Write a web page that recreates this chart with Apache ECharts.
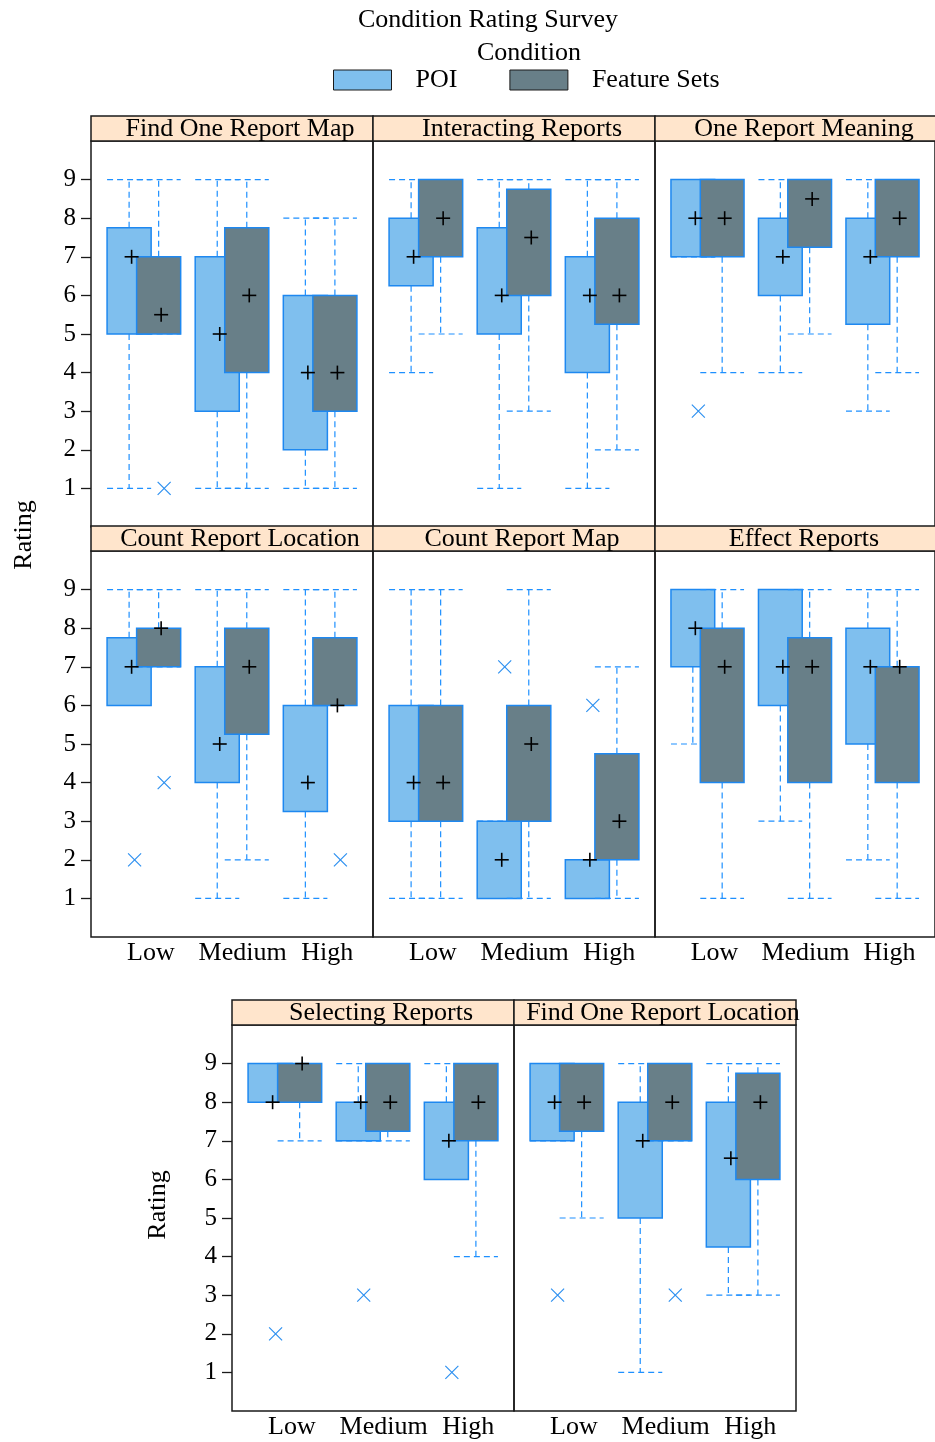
<!DOCTYPE html>
<html>
<head>
<meta charset="utf-8">
<script src="https://cdn.jsdelivr.net/npm/echarts@6/dist/echarts.min.js"></script>
<style>
  html, body { margin: 0; padding: 0; background: #ffffff; }
  #chart { width: 935px; height: 1442px; }
</style>
</head>
<body>
<div id="chart"></div>
<script>
// ---- data ----
const panelNames = [
  'Find One Report Map', 'Interacting Reports', 'One Report Meaning',
  'Count Report Location', 'Count Report Map', 'Effect Reports',
  'Selecting Reports', 'Find One Report Location'
];
const levels = ['Low', 'Medium', 'High'];
const seriesNames = ['POI', 'Feature Sets'];
const yTicks = [1, 2, 3, 4, 5, 6, 7, 8, 9];

// box summaries per panel for Low / Medium / High: [lower whisker, Q1, Q3, upper whisker]
const poiBoxes = [
  [[1, 5, 7.75, 9], [1, 3, 7, 9], [1, 2, 6, 8]],
  [[4, 6.25, 8, 9], [1, 5, 7.75, 9], [1, 4, 7, 9]],
  [[7, 7, 9, 9], [4, 6, 8, 9], [3, 5.25, 8, 9]],
  [[6, 6, 7.75, 9], [1, 4, 7, 9], [1, 3.25, 6, 9]],
  [[1, 3, 6, 9], [1, 1, 3, 3], [1, 1, 2, 2]],
  [[5, 7, 9, 9], [3, 6, 9, 9], [2, 5, 8, 9]],
  [[8, 8, 9, 9], [7, 7, 8, 9], [6, 6, 8, 9]],
  [[7, 7, 9, 9], [1, 5, 8, 9], [3, 4.25, 8, 9]]
];
const fsBoxes = [
  [[5, 5, 7, 9], [1, 4, 7.75, 9], [1, 3, 6, 8]],
  [[5, 7, 9, 9], [3, 6, 8.75, 9], [2, 5.25, 8, 9]],
  [[4, 7, 9, 9], [5, 7.25, 9, 9], [4, 7, 9, 9]],
  [[7, 7, 8, 9], [2, 5.25, 8, 9], [6, 6, 7.75, 9]],
  [[1, 3, 6, 9], [1, 3, 6, 9], [1, 2, 4.75, 7]],
  [[1, 4, 8, 9], [1, 4, 7.75, 9], [1, 4, 7, 9]],
  [[7, 8, 9, 9], [7, 7.25, 9, 9], [4, 7, 9, 9]],
  [[5, 7.25, 9, 9], [7, 7, 9, 9], [3, 6, 8.75, 9]]
];
// mean rating per panel for Low / Medium / High
const poiMeans = [[7, 5, 4], [7, 6, 6], [8, 7, 7], [7, 5, 4], [4, 2, 2], [8, 7, 7], [8, 8, 7], [8, 7, 6.55]];
const fsMeans  = [[5.5, 6, 4], [8, 7.5, 6], [8, 8.5, 8], [8, 7, 6], [4, 5, 3], [7, 7, 7], [9, 8, 8], [8, 8, 8]];
// outlying ratings per panel: [level index, rating]
const poiOutliers = [[], [], [[0, 3]], [[0, 2]], [[1, 7], [2, 6]], [], [[0, 2], [1, 3], [2, 1]], [[0, 3]]];
const fsOutliers  = [[[0, 1]], [], [], [[0, 4], [2, 2]], [], [], [], [[1, 3]]];

// ---- layout & style ----
const FONT = '"Liberation Serif", "DejaVu Serif", serif';
const PANEL_W = 282, PANEL_H = 386, STRIP_H = 25;
const panelPos = [[91, 141], [373, 141], [655, 141], [91, 551], [373, 551], [655, 551], [232, 1025], [514, 1025]];
const yLabelPanels = [0, 3, 6];
const xLabelPanels = [3, 4, 5, 6, 7];
const xLabelAt = [1.08, 2.12, 3.08];
const X_MIN = 0.4, X_MAX = 3.6;
const DODGE = 0.1676, BOX_HALF = 0.25;
const POI_FILL = '#7fbfee', FS_FILL = '#687f88';
const EDGE = '#1e88f0', WHISKER = '#1e90ff', OUTLIER = '#2b8ff0', INK = '#1a1a1a';

function seg(a, b, style) {
  return { type: 'line', shape: { x1: a[0], y1: a[1], x2: b[0], y2: b[1] }, style: style };
}

function whiskerItem(params, api) {
  const x = api.value(0), lo = api.value(1), q1 = api.value(2), q3 = api.value(3), hi = api.value(4);
  const st = { stroke: WHISKER, lineWidth: 1.2, lineDash: [6, 4], fill: null };
  const c = v => api.coord([x, v]);
  const l = v => api.coord([x - BOX_HALF, v]);
  const r = v => api.coord([x + BOX_HALF, v]);
  return {
    type: 'group',
    children: [seg(c(q3), c(hi), st), seg(c(q1), c(lo), st), seg(l(hi), r(hi), st), seg(l(lo), r(lo), st)]
  };
}

function boxItem(fill) {
  return function (params, api) {
    const x = api.value(0);
    const tl = api.coord([x - BOX_HALF, api.value(3)]);
    const br = api.coord([x + BOX_HALF, api.value(2)]);
    return {
      type: 'rect',
      shape: { x: tl[0], y: tl[1], width: br[0] - tl[0], height: br[1] - tl[1] },
      style: { fill: fill, stroke: EDGE, lineWidth: 1.5 }
    };
  };
}

function meanItem(params, api) {
  const p = api.coord([api.value(0), api.value(1)]);
  const cx = p[0] + 2.5, cy = p[1], a = 7;
  const st = { stroke: '#000', lineWidth: 1.6 };
  return { type: 'group', children: [seg([cx - a, cy], [cx + a, cy], st), seg([cx, cy - a], [cx, cy + a], st)] };
}

function outlierItem(params, api) {
  const p = api.coord([api.value(0), api.value(1)]);
  const cx = p[0] + 5.5, cy = p[1], a = 6.5;
  const st = { stroke: OUTLIER, lineWidth: 1.2 };
  return { type: 'group', children: [seg([cx - a, cy - a], [cx + a, cy + a], st), seg([cx - a, cy + a], [cx + a, cy - a], st)] };
}

const grids = [], xAxes = [], yAxes = [], series = [], graphics = [];

panelNames.forEach((name, i) => {
  const [left, top] = panelPos[i];
  const hasY = yLabelPanels.includes(i);
  const hasX = xLabelPanels.includes(i);
  grids.push({ left: left, top: top, width: PANEL_W, height: PANEL_H, show: true, borderColor: INK, borderWidth: 1.5, backgroundColor: 'transparent' });
  xAxes.push({
    gridIndex: i, type: 'value', min: X_MIN, max: X_MAX,
    axisLine: { show: false }, axisTick: { show: false }, splitLine: { show: false },
    axisLabel: {
      show: hasX, customValues: xLabelAt, margin: 3,
      formatter: v => levels[Math.round(v) - 1],
      fontFamily: FONT, fontSize: 26, color: '#000'
    }
  });
  yAxes.push({
    gridIndex: i, type: 'value', min: 0, max: 10, interval: 1,
    axisLine: { show: false }, splitLine: { show: false },
    axisTick: { show: hasY, customValues: yTicks, length: 10, lineStyle: { color: INK, width: 1.3 } },
    axisLabel: { show: hasY, customValues: yTicks, margin: 15, fontFamily: FONT, fontSize: 25, color: '#000' }
  });

  const poiX = k => k + 1 - DODGE;
  const fsX = k => k + 1 + DODGE;
  const common = { type: 'custom', xAxisIndex: i, yAxisIndex: i, silent: true, animation: false };

  series.push(Object.assign({}, common, { name: 'POI whiskers', renderItem: whiskerItem, data: poiBoxes[i].map((b, k) => [poiX(k)].concat(b)) }));
  series.push(Object.assign({}, common, { name: 'POI', renderItem: boxItem(POI_FILL), itemStyle: { color: POI_FILL }, data: poiBoxes[i].map((b, k) => [poiX(k)].concat(b)) }));
  series.push(Object.assign({}, common, { name: 'Feature Sets whiskers', renderItem: whiskerItem, data: fsBoxes[i].map((b, k) => [fsX(k)].concat(b)) }));
  series.push(Object.assign({}, common, { name: 'Feature Sets', renderItem: boxItem(FS_FILL), itemStyle: { color: FS_FILL }, data: fsBoxes[i].map((b, k) => [fsX(k)].concat(b)) }));
  series.push(Object.assign({}, common, {
    name: 'means', renderItem: meanItem,
    data: poiMeans[i].map((m, k) => [poiX(k), m]).concat(fsMeans[i].map((m, k) => [fsX(k), m]))
  }));
  series.push(Object.assign({}, common, {
    name: 'outliers', renderItem: outlierItem,
    data: poiOutliers[i].map(o => [poiX(o[0]), o[1]]).concat(fsOutliers[i].map(o => [fsX(o[0]), o[1]]))
  }));

  // panel strip with its title
  graphics.push({
    type: 'rect', z: 10,
    shape: { x: left, y: top - STRIP_H, width: PANEL_W, height: STRIP_H },
    style: { fill: '#ffe5cc', stroke: INK, lineWidth: 1.5 }
  });
  graphics.push({
    type: 'text', z: 11, x: left + PANEL_W / 2 + 8, y: top - STRIP_H / 2 + 1,
    style: { text: name, fontFamily: FONT, fontSize: 26, fill: '#000', align: 'center', verticalAlign: 'middle' }
  });
});

// shared y-axis titles
[[24, 535], [158, 1205]].forEach(p => {
  graphics.push({
    type: 'text', x: p[0], y: p[1], rotation: Math.PI / 2,
    style: { text: 'Rating', fontFamily: FONT, fontSize: 26, fill: '#000', align: 'center', verticalAlign: 'middle' }
  });
});

const chart = echarts.init(document.getElementById('chart'), null, { renderer: 'canvas' });
chart.setOption({
  animation: false,
  backgroundColor: '#ffffff',
  title: [
    { text: 'Condition Rating Survey', left: 358, top: 7, padding: 0, textStyle: { fontFamily: FONT, fontSize: 26, fontWeight: 'normal', color: '#000' } },
    { text: 'Condition', left: 477, top: 40, padding: 0, textStyle: { fontFamily: FONT, fontSize: 26, fontWeight: 'normal', color: '#000' } }
  ],
  legend: {
    left: 333, top: 67, padding: 0, itemWidth: 58, itemHeight: 20, itemGap: 52,
    selectedMode: false,
    textStyle: { fontFamily: FONT, fontSize: 26, color: '#000', padding: [0, 0, 0, 19] },
    data: [
      { name: seriesNames[0], icon: 'rect', itemStyle: { color: POI_FILL, borderColor: INK, borderWidth: 1 } },
      { name: seriesNames[1], icon: 'rect', itemStyle: { color: FS_FILL, borderColor: INK, borderWidth: 1 } }
    ]
  },
  grid: grids,
  xAxis: xAxes,
  yAxis: yAxes,
  series: series,
  graphic: graphics
});
</script>
</body>
</html>
